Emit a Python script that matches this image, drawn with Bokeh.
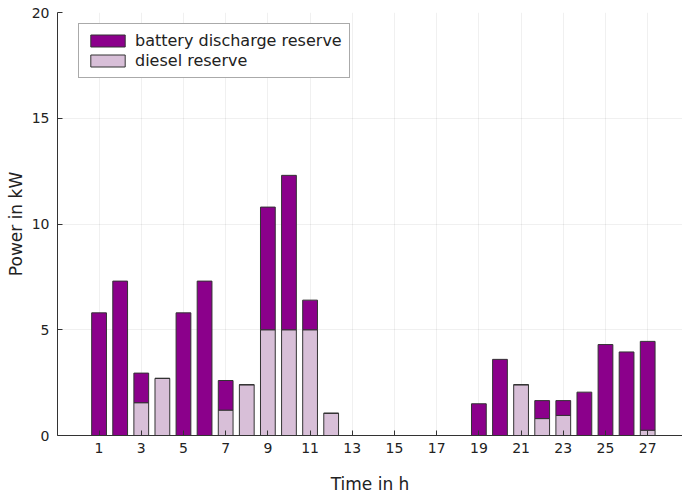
from bokeh.plotting import figure
from bokeh.models import ColumnDataSource, Range1d, FixedTicker, Legend
from bokeh.embed import file_html
from bokeh.resources import INLINE

# Hourly reserve provision (kW)
hours = list(range(1, 28))
diesel_reserve = [0, 0, 1.55, 2.7, 0, 0, 1.2, 2.4, 5.0, 5.0, 5.0, 1.05, 0, 0,
                  0, 0, 0, 0, 0, 0, 2.4, 0.8, 0.95, 0, 0, 0, 0.25]
battery_reserve = [5.8, 7.3, 1.4, 0, 5.8, 7.3, 1.4, 0, 5.8, 7.3, 1.4, 0, 0, 0,
                   0, 0, 0, 0, 1.5, 3.6, 0, 0.85, 0.7, 2.05, 4.3, 3.95, 4.2]
x_ticks = list(range(1, 28, 2))
y_ticks = [0, 5, 10, 15, 20]

FONT = "DejaVu Sans"
source = ColumnDataSource(dict(hour=hours, diesel=diesel_reserve, battery=battery_reserve))

p = figure(width=682, height=496, output_backend="svg", toolbar_location=None,
           x_range=Range1d(-0.97, 28.65), y_range=Range1d(0, 20),
           min_border_left=57, min_border_right=0, min_border_top=12,
           min_border_bottom=60)
p.outline_line_color = None
p.background_fill_color = "white"

renderers = p.vbar_stack(["diesel", "battery"], x="hour", width=0.7, source=source,
                         fill_color=["#d8bfd8", "#8b008b"],
                         line_color="#333333", line_width=1)

legend = Legend(items=[("battery discharge reserve", [renderers[1]]),
                       ("diesel reserve", [renderers[0]])],
                location=(21, 357))
legend.label_text_font = FONT
legend.label_text_font_size = "16px"
legend.label_text_color = "#222222"
legend.glyph_width = 43
legend.glyph_height = 15
legend.label_height = 15
legend.label_standoff = 6
legend.spacing = 1
legend.padding = 7
legend.margin = 0
legend.border_line_color = "#555555"
legend.border_line_width = 1
legend.background_fill_alpha = 1
p.add_layout(legend)

for ax in (p.xaxis[0], p.yaxis[0]):
    ax.axis_line_color = "#333333"
    ax.major_tick_line_color = "#333333"
    ax.major_tick_in = 5
    ax.major_tick_out = 0
    ax.minor_tick_line_color = None
    ax.major_label_text_font = FONT
    ax.major_label_text_font_size = "14px"
    ax.major_label_text_color = "#222222"
    ax.axis_label_text_font = FONT
    ax.axis_label_text_font_size = "17px"
    ax.axis_label_text_font_style = "normal"
    ax.axis_label_text_color = "#222222"

p.xaxis.ticker = FixedTicker(ticks=x_ticks)
p.yaxis.ticker = FixedTicker(ticks=y_ticks)
p.xaxis.axis_label = "Time in h"
p.yaxis.axis_label = "Power in kW"
p.xaxis.major_label_standoff = 7
p.yaxis.major_label_standoff = 8
p.xaxis.axis_label_standoff = 18
p.yaxis.axis_label_standoff = 3

p.xgrid.ticker = FixedTicker(ticks=x_ticks)
p.ygrid.ticker = FixedTicker(ticks=y_ticks)
p.grid.grid_line_color = "#000000"
p.grid.grid_line_alpha = 0.06
p.grid.grid_line_width = 1

open("out.html", "w").write(file_html(p, INLINE))
